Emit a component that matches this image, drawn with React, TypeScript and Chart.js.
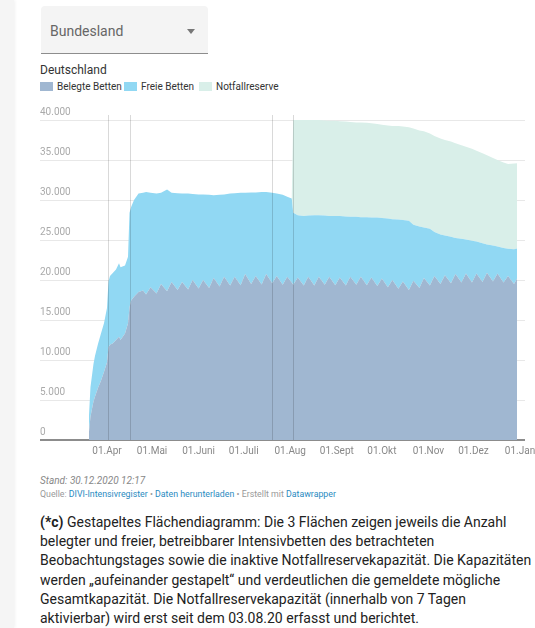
import React, { useEffect, useRef } from "react";
import { Chart, registerables } from "chart.js";

Chart.register(...registerables);

// ---- data ----
const dates = [
  "2020-03-20", "2020-03-21", "2020-03-23", "2020-03-24", "2020-03-26", "2020-03-28", "2020-03-30",
  "2020-04-01", "2020-04-02", "2020-04-03", "2020-04-05", "2020-04-07", "2020-04-09", "2020-04-10",
  "2020-04-13", "2020-04-15", "2020-04-16", "2020-04-17", "2020-04-19", "2020-04-22", "2020-04-25",
  "2020-04-27", "2020-04-30",
  "2020-05-04", "2020-05-07", "2020-05-11", "2020-05-14", "2020-05-18", "2020-05-21", "2020-05-25", "2020-05-28",
  "2020-06-01", "2020-06-04", "2020-06-08", "2020-06-11", "2020-06-15", "2020-06-18", "2020-06-22", "2020-06-25", "2020-06-29",
  "2020-07-02", "2020-07-06", "2020-07-09", "2020-07-13", "2020-07-16", "2020-07-20", "2020-07-23", "2020-07-27", "2020-07-30",
  "2020-08-02",
  "2020-08-03", "2020-08-06", "2020-08-10", "2020-08-13", "2020-08-17", "2020-08-20", "2020-08-24", "2020-08-27", "2020-08-31",
  "2020-09-03", "2020-09-07", "2020-09-10", "2020-09-14", "2020-09-17", "2020-09-21", "2020-09-24", "2020-09-28",
  "2020-10-01", "2020-10-05", "2020-10-08", "2020-10-12", "2020-10-15", "2020-10-19", "2020-10-22", "2020-10-26", "2020-10-29",
  "2020-11-02", "2020-11-05", "2020-11-09", "2020-11-12", "2020-11-16", "2020-11-19", "2020-11-23", "2020-11-26", "2020-11-30",
  "2020-12-03", "2020-12-07", "2020-12-10", "2020-12-14", "2020-12-17", "2020-12-21", "2020-12-24", "2020-12-28", "2020-12-30",
];

const belegteBetten = [
  1000, 2900, 4800, 5400, 6500, 7400, 8500,
  9700, 11600, 11900, 12100, 12500, 12900, 12500,
  13300, 14600, 16600, 17400, 17900, 18500, 18700,
  18200, 19100,
  18300, 19500, 18600, 19750, 18750, 19750, 18800, 20000,
  18950, 20000, 19000, 20250, 19200, 20400, 19300, 20400, 19350,
  20750, 19500, 20500, 19450, 20750, 19600, 20500, 19400, 20400,
  19700,
  19400, 20300, 19300, 20400, 19300, 20400, 19400, 20400, 19350,
  20300, 19300, 20400, 19400, 20400, 19350, 20300, 19250,
  20200, 19100, 20000, 18900, 19800, 18750, 19900, 19000, 20250,
  19300, 20500, 19500, 20600, 19600, 20750, 19700, 20800, 19700,
  20800, 19750, 20900, 19800, 20800, 19700, 20500, 19500, 20200,
];

const freieBetten = [
  2000, 3700, 4700, 5100, 5500, 5900, 6100,
  6800, 8200, 8600, 8800, 8800, 9200, 9100,
  8500, 8300, 11800, 11700, 12100, 12300, 12200,
  12800, 11800,
  12500, 11400, 12700, 11150, 12100, 11050, 12000, 10750,
  11750, 10700, 11650, 10350, 11450, 10300, 11500, 10450, 11550,
  10150, 11450, 10450, 11550, 10250, 11300, 10300, 11250, 10000,
  10500,
  9000, 7800, 8700, 7650, 8800, 7700, 8650, 7600, 8650,
  7700, 8650, 7500, 8500, 7450, 8500, 7500, 8550,
  7550, 8600, 7600, 8650, 7700, 8650, 7000, 7700, 6300,
  7100, 5500, 6200, 4950, 5800, 4500, 5450, 4250, 5200,
  4000, 4850, 3550, 4500, 3400, 4300, 3400, 4350, 3750,
];

const notfallreserve = [
  0, 0, 0, 0, 0, 0, 0,
  0, 0, 0, 0, 0, 0, 0,
  0, 0, 0, 0, 0, 0, 0,
  0, 0,
  0, 0, 0, 0, 0, 0, 0, 0,
  0, 0, 0, 0, 0, 0, 0, 0, 0,
  0, 0, 0, 0, 0, 0, 0, 0, 0,
  0,
  12100, 12150, 12200, 12050, 11950, 11900, 11900, 11900, 11900,
  11850, 11850, 11850, 11800, 11850, 11800, 11800, 11700,
  11650, 11600, 11650, 11700, 11700, 11700, 12050, 12000, 12050,
  11900, 12000, 12000, 11950, 11900, 11850, 11700, 11600, 11500,
  11350, 11250, 11150, 10950, 10800, 10700, 10600, 10700, 10650,
];

const seriesNames = ["Belegte Betten", "Freie Betten", "Notfallreserve"];
const seriesColors = ["#a0b7d1", "#91d8f3", "#d9efe9"];

const yTickValues = [0, 5000, 10000, 15000, 20000, 25000, 30000, 35000, 40000];
const xTickDates = [
  "2020-04-01", "2020-05-01", "2020-06-01", "2020-07-01", "2020-08-01",
  "2020-09-01", "2020-10-01", "2020-11-01", "2020-12-01", "2021-01-01",
];
const xTickLabels = [
  "01.Apr", "01.Mai", "01.Juni", "01.Juli", "01.Aug",
  "01.Sept", "01.Okt", "01.Nov", "01.Dez", "01.Jan",
];
const markerDates = ["2020-04-02", "2020-04-16", "2020-07-20", "2020-08-03"];

const X_MIN = 46.4;
const X_MAX = 369.3;

const toDay = (s: string) => {
  const [y, m, d] = s.split("-").map(Number);
  return (Date.UTC(y, m - 1, d) - Date.UTC(2020, 0, 1)) / 86400000;
};

const fmt = (v: number) => String(v).replace(/\B(?=(\d{3})+(?!\d))/g, ".");

const FONT = "Roboto, 'Noto Sans', sans-serif";

const markerPlugin = {
  id: "markers",
  afterDatasetsDraw(chart: any) {
    const { ctx, chartArea, scales } = chart;
    ctx.save();
    ctx.strokeStyle = "rgba(0,0,0,0.15)";
    ctx.lineWidth = 1;
    markerDates.forEach((d) => {
      const x = Math.round(scales.x.getPixelForValue(toDay(d))) + 0.5;
      ctx.beginPath();
      ctx.moveTo(x, chartArea.top - 5);
      ctx.lineTo(x, chartArea.bottom);
      ctx.stroke();
    });
    ctx.restore();
  },
};

function AreaChart() {
  const ref = useRef<HTMLCanvasElement | null>(null);
  useEffect(() => {
    if (!ref.current) return;
    const series = [belegteBetten, freieBetten, notfallreserve];
    const chart = new Chart(ref.current, {
      type: "line",
      data: {
        datasets: series.map((vals, i) => ({
          label: seriesNames[i],
          data: vals.map((v, j) => ({ x: toDay(dates[j]), y: v })),
          backgroundColor: seriesColors[i],
          borderColor: "transparent",
          borderWidth: 0,
          pointRadius: 0,
          tension: 0,
          fill: i === 0 ? "origin" : "-1",
        })),
      },
      options: {
        animation: false,
        responsive: false,
        devicePixelRatio: 1,
        events: [],
        layout: { padding: { left: 40, right: 10, top: 20, bottom: 0 } },
        plugins: {
          legend: { display: false },
          title: { display: false },
          tooltip: { enabled: false },
        },
        scales: {
          x: {
            type: "linear",
            min: X_MIN,
            max: X_MAX,
            afterBuildTicks: (s: any) => {
              s.ticks = xTickDates.map((d) => ({ value: toDay(d) }));
            },
            afterFit: (s: any) => {
              s.height = 25;
              s.paddingLeft = 0;
              s.paddingRight = 0;
            },
            ticks: {
              autoSkip: false,
              maxRotation: 0,
              padding: 5,
              color: "#888888",
              font: { family: FONT, size: 10 },
              callback: (_v: any, i: number) => xTickLabels[i],
            },
            grid: { display: false, drawTicks: false },
            border: { display: false },
          },
          y: {
            type: "linear",
            stacked: true,
            min: 0,
            max: 40000,
            z: 1,
            afterBuildTicks: (s: any) => {
              s.ticks = yTickValues.map((v) => ({ value: v }));
            },
            afterFit: (s: any) => {
              s.width = 0;
              s.paddingTop = 0;
              s.paddingBottom = 0;
            },
            ticks: {
              mirror: true,
              padding: 0,
              labelOffset: -8,
              color: "#aaaaaa",
              font: { family: FONT, size: 10 },
              callback: (v: any) => fmt(Number(v)),
            },
            grid: {
              drawTicks: false,
              color: (c: any) => (c.tick && c.tick.value === 0 ? "#8c8c8c" : "rgba(0,0,0,0.09)"),
              lineWidth: (c: any) => (c.tick && c.tick.value === 0 ? 2 : 1),
            },
            border: { display: false },
          },
        },
      },
      plugins: [markerPlugin],
    } as any);
    return () => chart.destroy();
  }, []);
  return (
    <canvas
      ref={ref}
      width={535}
      height={365}
      style={{ position: "absolute", left: 0, top: 100, width: 535, height: 365 }}
    />
  );
}

const paragraphLines = [
  "Gestapeltes Flächendiagramm: Die 3 Flächen zeigen jeweils die Anzahl",
  "belegter und freier, betreibbarer Intensivbetten des betrachteten",
  "Beobachtungstages sowie die inaktive Notfallreservekapazität. Die Kapazitäten",
  "werden „aufeinander gestapelt“ und verdeutlichen die gemeldete mögliche",
  "Gesamtkapazität. Die Notfallreservekapazität (innerhalb von 7 Tagen",
  "aktivierbar) wird erst seit dem 03.08.20 erfasst und berichtet.",
];

export default function App() {
  const abs = (left: number, top: number, extra: any = {}) => ({
    position: "absolute" as const,
    left,
    top,
    whiteSpace: "nowrap" as const,
    fontFamily: FONT,
    ...extra,
  });
  const link = { color: "#2a8bbf" };
  const legendLefts = [40, 124, 199];
  return (
    <div
      style={{
        position: "absolute",
        left: 0,
        top: 0,
        width: 535,
        height: 628,
        overflow: "hidden",
        background: "#ffffff",
        fontFamily: FONT,
      }}
    >
      <div
        style={{
          position: "absolute",
          left: 0,
          top: 0,
          width: 14,
          height: 628,
          background: "#f5f5f5",
          boxShadow: "1px 0 3px rgba(0,0,0,0.06)",
        }}
      />
      {/* dropdown */}
      <div
        style={{
          position: "absolute",
          left: 41,
          top: 6,
          width: 167,
          height: 47,
          background: "#f4f4f4",
          borderBottom: "1px solid #8d8d8d",
          borderRadius: "4px 4px 0 0",
        }}
      />
      <div style={abs(50, 22, { fontSize: 14, lineHeight: "18px", color: "#666666" })}>Bundesland</div>
      <div
        style={{
          position: "absolute",
          left: 187,
          top: 29,
          width: 0,
          height: 0,
          borderLeft: "4px solid transparent",
          borderRight: "4px solid transparent",
          borderTop: "5px solid #777777",
        }}
      />
      {/* title */}
      <div style={abs(40, 62, { fontSize: 12, lineHeight: "16px", color: "#333333" })}>Deutschland</div>
      {/* legend */}
      {seriesNames.map((n, i) => (
        <React.Fragment key={n}>
          <div
            style={{
              position: "absolute",
              left: legendLefts[i],
              top: 82,
              width: 13,
              height: 9,
              background: seriesColors[i],
            }}
          />
          <div style={abs(legendLefts[i] + 17, 80, { fontSize: 10, lineHeight: "14px", color: "#333333" })}>{n}</div>
        </React.Fragment>
      ))}
      <AreaChart />
      {/* footer */}
      <div style={abs(40, 474, { fontSize: 10, lineHeight: "14px", fontStyle: "italic", color: "#888888" })}>
        Stand: 30.12.2020 12:17
      </div>
      <div style={abs(40, 488, { fontSize: 8.8, lineHeight: "12px", color: "#999999" })}>
        Quelle: <span style={link}>DIVI-Intensivregister</span> • <span style={link}>Daten herunterladen</span> •
        Erstellt mit <span style={link}>Datawrapper</span>
      </div>
      {paragraphLines.map((l, i) => (
        <div key={i} style={abs(40, 513 + i * 19.2, { fontSize: 14, lineHeight: "19px", color: "#222222" })}>
          {i === 0 ? (
            <>
              <b>(*c)</b> {l}
            </>
          ) : (
            l
          )}
        </div>
      ))}
    </div>
  );
}
